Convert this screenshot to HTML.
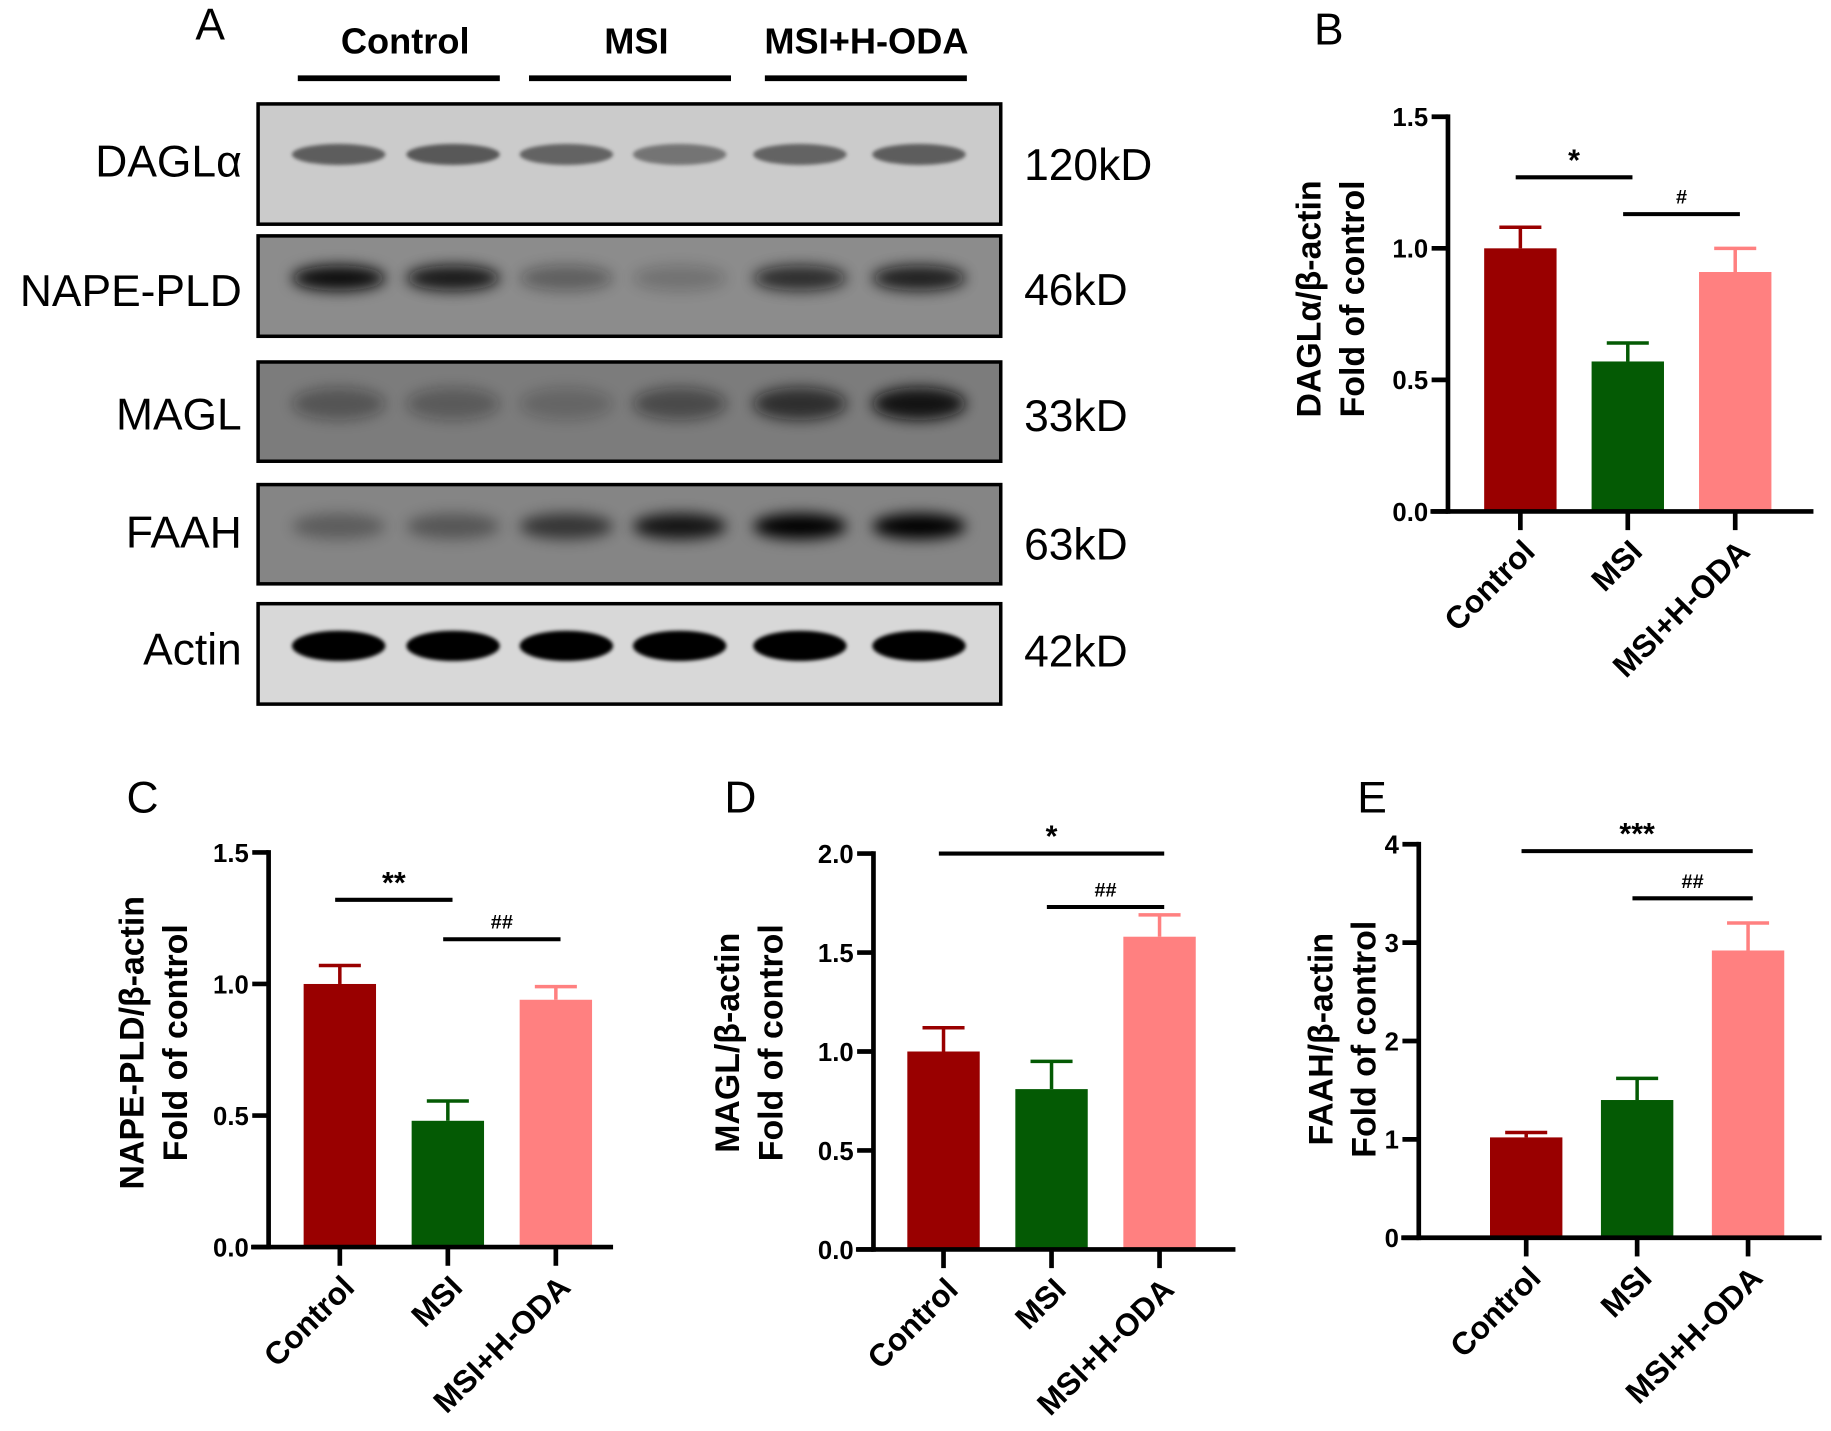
<!DOCTYPE html>
<html><head><meta charset="utf-8"><style>
html,body{margin:0;padding:0;background:#fff}
svg{display:block}
text{font-family:"Liberation Sans",Arial,sans-serif}
</style></head><body>
<svg id="fig" width="1831" height="1431" viewBox="0 0 1568 1225.5" xmlns="http://www.w3.org/2000/svg">
<defs>
<filter id="blur2" x="-20%" y="-50%" width="140%" height="200%"><feGaussianBlur stdDeviation="1.5"/></filter>
<filter id="blur6" x="-30%" y="-80%" width="160%" height="260%"><feGaussianBlur stdDeviation="6"/></filter>
</defs>
<g id="blot"></g>
<g id="charts"></g>
</svg>
<script>
const NS='http://www.w3.org/2000/svg';
function mk(parent,tag,attrs,txt){const e=document.createElementNS(NS,tag);for(const k in attrs)e.setAttribute(k,attrs[k]);if(txt!==undefined)e.textContent=txt;parent.appendChild(e);return e;}

// ---------- Western blot data ----------
const blotProteins=['DAGLα','NAPE-PLD','MAGL','FAAH','Actin'];
const blotSizes=['120kD','46kD','33kD','63kD','42kD'];
const bandIntensity=[[0.95,1,0.9,0.75,0.9,0.95],[1,0.9,0.35,0.2,0.75,0.85],[0.35,0.3,0.2,0.45,0.7,0.95],[0.3,0.35,0.6,0.85,1,1],[1,1,1,1,1,1]];
const blot=document.getElementById('blot');
const rows=[{y:89,h:103,bg:'#cbcbcb',band:'#585858',blur:'blur2',bh:18,ty:137,ky:140},
{y:202,h:86,bg:'#8c8c8c',band:'#080808',blur:'blur6',bh:22,ty:248,ky:247},
{y:310,h:85,bg:'#7c7c7c',band:'#0c0c0c',blur:'blur6',bh:28,ty:354,ky:355},
{y:415,h:85,bg:'#858585',band:'#050505',blur:'blur6',bh:22,ty:455,ky:465},
{y:517,h:86,bg:'#d8d8d8',band:'#050505',blur:'blur2',bh:26,ty:555,ky:557}];
const lanes=[290,388,485,582,685,787];
let t=mk(blot,'text',{x:180,y:34,'font-size':38,'text-anchor':'middle'},'A');

const groups=[['Control',347,255,428],['MSI',545,453,626],['MSI+H-ODA',742,655,828]];
groups.forEach(g=>{
 let tt=mk(blot,'text',{x:g[1],y:46,'font-size':31,'font-weight':'bold','text-anchor':'middle'},g[0]);
 
 let l=mk(blot,'line',{x1:g[2],x2:g[3],y1:67,y2:67,stroke:'#000','stroke-width':5});
 
});
rows.forEach((r,i)=>{
 let bx=mk(blot,'rect',{x:221,y:r.y,width:636,height:r.h,fill:r.bg,stroke:'#000','stroke-width':3});
 
 const cy=r.y+r.h*0.42;
 lanes.forEach((lx,j)=>{
  const v=bandIntensity[i][j];
  let b=mk(blot,'ellipse',{cx:lx,cy:cy,rx:40,ry:r.bh/2,fill:r.band,opacity:Math.min(1,v),filter:'url(#'+r.blur+')'});
  
 });
 let lt=mk(blot,'text',{x:207,y:r.ty+14,'font-size':38,'text-anchor':'end'},blotProteins[i]);
 
 let kt=mk(blot,'text',{x:877,y:r.ky+14,'font-size':38},blotSizes[i]);
 
});

// ---------- Bar chart data ----------
const categories=['Control','MSI','MSI+H-ODA'];
const colors=['#990000','#045a04','#ff8080'];
const meansB=[1.0,0.57,0.91], errB=[0.08,0.07,0.09], ticksB=[0,0.5,1.0,1.5];
const meansC=[1.0,0.48,0.94], errC=[0.07,0.075,0.05], ticksC=[0,0.5,1.0,1.5];
const meansD=[1.0,0.81,1.58], errD=[0.12,0.14,0.11], ticksD=[0,0.5,1.0,1.5,2.0];
const meansE=[1.02,1.4,2.92], errE=[0.05,0.22,0.28], ticksE=[0,1,2,3,4];
const labelsB=['DAGLα/β-actin','Fold of control'];
const labelsC=['NAPE-PLD/β-actin','Fold of control'];
const labelsD=['MAGL/β-actin','Fold of control'];
const labelsE=['FAAH/β-actin','Fold of control'];
const sigB=[[0,1,1.27,'*'],[1,2,1.13,'#']];
const sigC=[[0,1,1.32,'**'],[1,2,1.17,'##']];
const sigD=[[0,2,2.0,'*'],[1,2,1.73,'##']];
const sigE=[[0,2,3.93,'***'],[1,2,3.45,'##']];

const charts=document.getElementById('charts');
function chart(o){
 const g=mk(charts,'g',{});
 
 const ymax=o.ticks[o.ticks.length-1];
 const Y=v=>o.y0-(o.y0-o.ytop)*v/ymax;
 const X=i=>o.xc[0]+i*o.step;
 let pl=mk(g,'text',{x:o.plx,y:o.ply,'font-size':38,'text-anchor':'middle'},o.letter);
 
 o.means.forEach((m,i)=>{
  const cx=X(i),top=Y(m),et=Y(m+o.err[i]);
  let ln=mk(g,'line',{x1:cx,x2:cx,y1:top,y2:et,stroke:colors[i],'stroke-width':3});
  
  let cap=mk(g,'line',{x1:cx-18,x2:cx+18,y1:et,y2:et,stroke:colors[i],'stroke-width':3});
  
  let b=mk(g,'rect',{x:cx-31,y:top,width:62,height:o.y0-top,fill:colors[i]});
  
 });
 let ya=mk(g,'line',{x1:o.ax,x2:o.ax,y1:Y(ymax)-2,y2:o.y0+2,stroke:'#000','stroke-width':4});
 
 let xa=mk(g,'line',{x1:o.ax-15,x2:o.xend,y1:o.y0,y2:o.y0,stroke:'#000','stroke-width':4});
 
 o.ticks.forEach(v=>{
  let tk=mk(g,'line',{x1:o.ax-14,x2:o.ax,y1:Y(v),y2:Y(v),stroke:'#000','stroke-width':4});
  
  let tl=mk(g,'text',{x:o.ax-17,y:Y(v)+8,'font-size':22,'font-weight':'bold','text-anchor':'end'},o.dec?v.toFixed(1):String(v));
  
 });
 categories.forEach((c,i)=>{
  const cx=X(i);
  let tk=mk(g,'line',{x1:cx,x2:cx,y1:o.y0,y2:o.y0+16,stroke:'#000','stroke-width':4});
  
  let tl=mk(g,'text',{x:cx+14,y:o.y0+36,'font-size':27,'font-weight':'bold','text-anchor':'end',transform:`rotate(-45 ${cx+14} ${o.y0+36})`},c);
  
 });
 o.labels.forEach((l,k)=>{
  const x=o.tx+k*37,y=o.ty;
  let tl=mk(g,'text',{x:x,y:y,'font-size':29,'font-weight':'bold','text-anchor':'middle',transform:`rotate(-90 ${x} ${y})`},l);
  
 });
 o.sig.forEach(s=>{
  const x1=X(s[0])-4,x2=X(s[1])+4,y=Y(s[2]);
  let l=mk(g,'line',{x1:x1,x2:x2,y1:y,y2:y,stroke:'#000','stroke-width':3.5});
  
  const small=s[3].indexOf('#')>=0;
  let st=mk(g,'text',{x:(x1+x2)/2,y:small?y-9:y-6,'font-size':small?17:26,'font-weight':'bold','text-anchor':'middle'},s[3]);
  
 });
}
chart({name:'chart-b-dagla',letter:'B',plx:1138,ply:38,means:meansB,err:errB,ticks:ticksB,labels:labelsB,sig:sigB,ax:1240,y0:438,ytop:100,xc:[1302],step:92,xend:1553,tx:1131,ty:256,dec:true});
chart({name:'chart-c-nape-pld',letter:'C',plx:122,ply:696,means:meansC,err:errC,ticks:ticksC,labels:labelsC,sig:sigC,ax:230,y0:1068,ytop:730,xc:[291],step:92.5,xend:525,tx:123,ty:893,dec:true});
chart({name:'chart-d-magl',letter:'D',plx:634,ply:696,means:meansD,err:errD,ticks:ticksD,labels:labelsD,sig:sigD,ax:748,y0:1070,ytop:731,xc:[808],step:92.5,xend:1058,tx:633,ty:893,dec:true});
chart({name:'chart-e-faah',letter:'E',plx:1175,ply:696,means:meansE,err:errE,ticks:ticksE,labels:labelsE,sig:sigE,ax:1215,y0:1060,ytop:723,xc:[1307],step:95,xend:1560,tx:1141,ty:890,dec:false});
</script>
</body></html>
